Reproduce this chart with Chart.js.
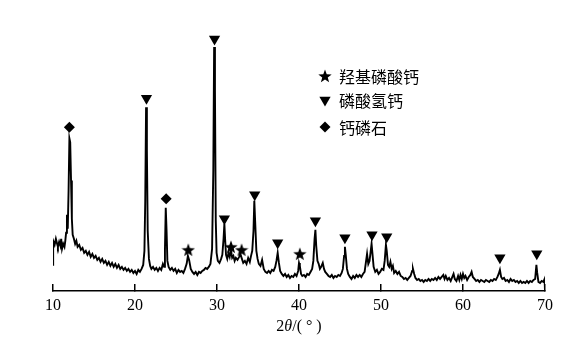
<!DOCTYPE html>
<html>
<head>
<meta charset="utf-8">
<script src="https://cdn.jsdelivr.net/npm/chart.js@4"></script>
<style>
  html, body { margin: 0; padding: 0; background: #fff; }
  #wrap { width: 580px; height: 343px; }
</style>
</head>
<body>
<div id="wrap"><canvas id="xrd" width="580" height="343"></canvas></div>
<script>
// XRD 图谱 (2θ, 强度) — 读图估计
const pattern = [
  [10.0,26],[10.02,50],[10.2,46],[10.35,52],[10.5,47],[10.6,44],[10.75,49],[10.9,45],[11.0,52],[11.1,42],
  [11.25,47],[11.4,44],[11.5,50],[11.6,58],[11.7,76],[11.8,62],[11.9,100],[12.0,152],[12.1,148],[12.2,110],
  [12.3,72],[12.4,56],[12.55,52],[12.7,47],[12.85,50],[13.0,44],[13.2,46],[13.4,41],[13.6,43],[13.8,38],
  [14.0,40],[14.2,36],[14.4,39],[14.6,34],[14.8,37],[15.0,33],[15.2,35],[15.4,31],[15.6,33],[15.8,29],
  [16.0,32],[16.2,28],[16.4,30],[16.6,26],[16.8,29],[17.0,25],[17.2,28],[17.4,24],[17.6,27],[17.8,23],
  [18.0,26],[18.2,22],[18.4,24],[18.6,21],[18.8,23],[19.0,20],[19.2,22],[19.4,19],[19.6,21],[19.8,18],
  [20.0,20],[20.2,17],[20.4,21],[20.6,19],[20.8,22],[21.0,26],[21.15,40],[21.25,90],[21.35,183],[21.45,140],
  [21.55,60],[21.7,32],[21.85,25],[22.0,22],[22.2,24],[22.4,21],[22.6,23],[22.8,20],[23.0,23],[23.2,21],
  [23.4,27],[23.55,24],[23.65,40],[23.75,83],[23.85,60],[23.95,30],[24.1,24],[24.3,21],[24.5,23],[24.7,20],
  [24.9,22],[25.1,18],[25.3,21],[25.5,19],[25.7,20],[25.9,18],[26.1,22],[26.3,27],[26.45,35],[26.6,31],
  [26.8,22],[27.0,19],[27.2,17],[27.4,19],[27.6,16],[27.8,19],[28.0,18],[28.2,20],[28.4,21],[28.6,23],
  [28.8,22],[29.0,24],[29.2,27],[29.4,42],[29.55,120],[29.65,243],[29.75,200],[29.85,70],[29.95,38],[30.1,30],
  [30.3,28],[30.5,32],[30.65,36],[30.8,52],[30.9,67],[31.0,50],[31.1,36],[31.25,32],[31.4,38],[31.55,34],
  [31.7,41],[31.85,33],[32.0,35],[32.15,30],[32.3,33],[32.5,31],[32.7,34],[32.85,37],[33.0,33],[33.2,28],
  [33.4,30],[33.6,27],[33.8,33],[34.0,29],[34.15,35],[34.3,40],[34.45,60],[34.55,90],[34.65,70],[34.8,40],
  [34.95,32],[35.1,27],[35.3,25],[35.5,31],[35.7,22],[35.9,19],[36.1,18],[36.3,20],[36.5,18],[36.7,21],
  [36.9,20],[37.1,24],[37.25,30],[37.4,38],[37.55,28],[37.7,20],[37.9,17],[38.1,15],[38.3,17],[38.5,14],
  [38.7,16],[38.9,13],[39.1,15],[39.3,14],[39.5,17],[39.7,15],[39.9,20],[40.0,28],[40.1,25],[40.25,17],
  [40.4,15],[40.6,16],[40.8,14],[41.0,17],[41.2,16],[41.4,19],[41.6,22],[41.75,30],[41.9,52],[42.0,61],
  [42.1,45],[42.25,30],[42.4,27],[42.55,22],[42.7,24],[42.9,28],[43.05,22],[43.2,19],[43.4,17],[43.6,15],
  [43.8,14],[44.0,16],[44.2,13],[44.4,15],[44.6,14],[44.8,16],[45.0,15],[45.2,18],[45.35,22],[45.5,35],
  [45.6,44],[45.7,36],[45.85,22],[46.0,17],[46.2,14],[46.4,12],[46.6,15],[46.8,13],[47.0,16],[47.2,14],
  [47.4,16],[47.6,14],[47.8,17],[48.0,19],[48.15,28],[48.3,37],[48.45,27],[48.6,30],[48.75,40],[48.85,47],
  [48.95,38],[49.1,24],[49.3,19],[49.5,21],[49.7,17],[49.9,19],[50.1,22],[50.3,21],[50.45,30],[50.6,46],
  [50.7,40],[50.85,26],[51.0,24],[51.15,29],[51.3,22],[51.45,25],[51.6,18],[51.8,20],[52.0,17],[52.2,19],
  [52.4,15],[52.6,14],[52.8,12],[53.0,13],[53.2,11],[53.4,13],[53.6,15],[53.8,20],[53.9,22],[54.05,17],
  [54.2,13],[54.4,11],[54.6,12],[54.8,10],[55.0,11],[55.2,9],[55.4,11],[55.6,10],[55.8,12],[56.0,10],
  [56.2,12],[56.4,11],[56.6,13],[56.8,11],[57.0,14],[57.2,12],[57.4,14],[57.6,16],[57.75,12],[57.9,15],
  [58.1,11],[58.3,13],[58.5,10],[58.7,14],[58.85,17],[59.0,12],[59.2,10],[59.4,15],[59.55,11],[59.7,16],
  [59.85,12],[60.0,17],[60.15,13],[60.3,15],[60.5,11],[60.7,14],[60.9,16],[61.05,19],[61.2,14],[61.4,12],
  [61.6,10],[61.8,11],[62.0,9],[62.2,11],[62.4,10],[62.6,9],[62.8,11],[63.0,10],[63.2,9],[63.4,11],
  [63.6,10],[63.8,12],[64.0,11],[64.2,14],[64.35,17],[64.5,21],[64.65,14],[64.8,12],[65.0,13],[65.2,10],
  [65.4,11],[65.6,9],[65.8,12],[66.0,10],[66.2,11],[66.4,9],[66.6,10],[66.8,8],[67.0,10],[67.2,8],
  [67.4,9],[67.6,8],[67.8,10],[68.0,8],[68.2,10],[68.4,9],[68.6,11],[68.8,12],[68.95,26],[69.05,18],
  [69.2,9],[69.4,8],[69.6,10],[69.8,9],[69.95,12],[70.0,0]
];

// 物相标记 [2θ, 标记高度]
const hapMarks = [[26.5,41],[31.7,44],[33.0,41],[40.1,37]];
const dcpMarks = [[21.4,192],[29.7,251],[30.9,72],[34.6,96],[37.4,48],[42.0,70],[45.6,53],[48.9,56],[50.7,54],[64.5,33],[69.0,37]];
const monMarks = [[12.0,163],[23.8,92]];

const phaseNames = ['羟基磷酸钙', '磷酸氢钙', '钙磷石'];
const xTicks = [10, 20, 30, 40, 50, 60, 70];

// 实心五角星
const starImg = document.createElement('canvas');
starImg.width = 14; starImg.height = 14;
(function () {
  const c = starImg.getContext('2d');
  c.fillStyle = '#000';
  c.beginPath();
  for (let i = 0; i < 10; i++) {
    const r = i % 2 === 0 ? 7 : 2.9;
    const a = -Math.PI / 2 + i * Math.PI / 5;
    const px = 7 + r * Math.cos(a), py = 7.6 + r * Math.sin(a);
    if (i === 0) c.moveTo(px, py); else c.lineTo(px, py);
  }
  c.closePath();
  c.fill();
})();

const toXY = arr => arr.map(p => ({ x: p[0], y: p[1] }));

const markStyles = [
  { pointStyle: starImg, rotation: 0, radius: 7 },
  { pointStyle: 'triangle', rotation: 180, radius: 6.5 },
  { pointStyle: 'rectRot', rotation: 0, radius: 5.5 }
];

// 图内图例 + 横轴标题
const extras = {
  id: 'extras',
  afterDraw(chart) {
    const ctx = chart.ctx;
    ctx.save();
    ctx.fillStyle = '#000';
    ctx.strokeStyle = '#000';
    const rows = [76, 100, 127];
    phaseNames.forEach((name, i) => {
      const st = markStyles[i];
      Chart.helpers.drawPoint(ctx, {
        pointStyle: st.pointStyle, rotation: st.rotation, radius: st.radius, borderWidth: 0
      }, 325, rows[i]);
      ctx.font = '16px "Noto Sans CJK SC"';
      ctx.textBaseline = 'middle';
      ctx.textAlign = 'left';
      ctx.fillText(name, 339, rows[i] + 1);
    });

    // 2θ/( ° )
    const parts = [
      { t: '2', f: '16px "Liberation Serif"' },
      { t: 'θ', f: 'italic 16px "Liberation Serif"' },
      { t: '/( ° )', f: '16px "Liberation Serif"' }
    ];
    let total = 0;
    parts.forEach(p => { ctx.font = p.f; p.w = ctx.measureText(p.t).width; total += p.w; });
    const area = chart.chartArea;
    let x = (area.left + area.right) / 2 - total / 2;
    ctx.textBaseline = 'middle';
    parts.forEach(p => { ctx.font = p.f; ctx.fillText(p.t, x, 327); x += p.w; });
    ctx.restore();
  }
};

new Chart(document.getElementById('xrd').getContext('2d'), {
  type: 'line',
  data: {
    datasets: [
      {
        label: 'XRD',
        data: toXY(pattern),
        borderColor: '#000',
        borderWidth: 1.9,
        pointRadius: 0,
        tension: 0,
        fill: false,
        order: 2
      },
      {
        type: 'scatter', label: phaseNames[0], data: toXY(hapMarks),
        pointStyle: starImg, pointRadius: 7, backgroundColor: '#000', borderWidth: 0, order: 1
      },
      {
        type: 'scatter', label: phaseNames[1], data: toXY(dcpMarks),
        pointStyle: 'triangle', rotation: 180, pointRadius: 6.5,
        backgroundColor: '#000', borderColor: '#000', borderWidth: 0, order: 1
      },
      {
        type: 'scatter', label: phaseNames[2], data: toXY(monMarks),
        pointStyle: 'rectRot', pointRadius: 5.5,
        backgroundColor: '#000', borderColor: '#000', borderWidth: 0, order: 1
      }
    ]
  },
  options: {
    responsive: false,
    animation: false,
    devicePixelRatio: 1,
    layout: { padding: { left: 53, right: 35, top: 30, bottom: 22 } },
    plugins: {
      legend: { display: false },
      tooltip: { enabled: false },
      title: { display: false }
    },
    scales: {
      x: {
        type: 'linear',
        min: 10, max: 70,
        afterBuildTicks: axis => { axis.ticks = xTicks.map(v => ({ value: v })); },
        afterFit: axis => { axis.height = 30; },
        ticks: {
          color: '#000',
          padding: 12,
          font: { family: '"Liberation Serif"', size: 16 }
        },
        grid: {
          drawOnChartArea: false,
          drawTicks: true,
          tickLength: -7,
          color: '#000',
          lineWidth: 1.5
        },
        border: { display: true, color: '#000', width: 1.5 }
      },
      y: {
        display: false,
        min: 0, max: 260
      }
    }
  },
  plugins: [extras]
});
</script>
</body>
</html>
